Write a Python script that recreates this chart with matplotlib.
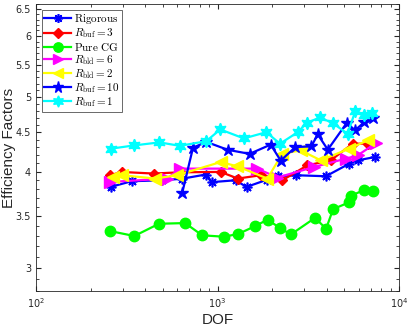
import numpy as np
import matplotlib
matplotlib.use('Agg')
from matplotlib import pyplot as plt
from matplotlib.ticker import FixedLocator, NullFormatter, LogLocator

plt.rcParams['mathtext.fontset'] = 'cm'

# DOF / efficiency factor pairs
rig_x = [259, 337, 495, 638, 859, 927, 1257, 1445, 1883, 2164, 2716, 3953, 5333, 5919, 7362]
rig_y = [3.823, 3.887, 3.898, 3.916, 3.965, 3.876, 3.898, 3.821, 3.906, 3.945, 3.957, 3.945, 4.097, 4.137, 4.178]

b3_x = [256, 297, 444, 625, 1040, 1295, 1729, 2276, 3130, 4210, 5550, 6710]
b3_y = [3.957, 3.996, 3.977, 3.992, 3.996, 3.918, 3.957, 3.898, 4.076, 4.137, 4.348, 4.348]

cg_x = [256, 348, 476, 663, 823, 1083, 1295, 1601, 1889, 2209, 2541, 3448, 3965, 4335, 5294, 5451, 6380, 7183]
cg_y = [3.349, 3.300, 3.423, 3.430, 3.307, 3.293, 3.319, 3.396, 3.466, 3.379, 3.316, 3.484, 3.372, 3.576, 3.648, 3.722, 3.784, 3.779]

d6_x = [256, 527, 625, 1656, 2138, 3404, 5093, 5919, 7464]
d6_y = [3.878, 3.918, 4.036, 4.036, 3.930, 4.056, 4.158, 4.199, 4.356]

d2_x = [267, 297, 454, 599, 1040, 1285, 1883, 2276, 2877, 3706, 5318, 6710]
d2_y = [3.936, 3.957, 3.918, 3.957, 4.116, 4.064, 3.918, 4.220, 4.262, 4.137, 4.284, 4.391]

b10_x = [638, 733, 869, 1140, 1503, 1963, 2230, 2686, 3286, 3568, 4052, 5164, 5716, 6433, 7161]
b10_y = [3.747, 4.297, 4.371, 4.269, 4.218, 4.336, 4.133, 4.305, 4.313, 4.470, 4.271, 4.629, 4.524, 4.637, 4.698]

b1_x = [259, 348, 479, 621, 867, 1036, 1397, 1858, 2210, 2766, 3102, 3662, 4304, 5208, 5738, 6412, 7066]
b1_y = [4.284, 4.326, 4.365, 4.320, 4.381, 4.537, 4.417, 4.500, 4.348, 4.500, 4.626, 4.702, 4.626, 4.479, 4.790, 4.744, 4.765]

yticks = [3, 3.5, 4, 4.5, 5, 5.5, 6, 6.5]

fig = plt.figure(figsize=(4.07, 3.27), dpi=100)
ax = fig.add_axes([36/407, 36/327, 363/407, 287/327])

asterisk = (8, 2, 0)
hexagram = (6, 1, 0)
ax.plot(rig_x, rig_y, '-', color='b', marker=asterisk, ms=7, mew=1.2, lw=1.6, label=r'$\mathrm{Rigorous}$')
ax.plot(b3_x, b3_y, '-', color='r', marker='D', ms=5.5, lw=1.6, label=r'$R_{\rm buf}=3$')
ax.plot(cg_x, cg_y, '-', color='#00ff00', marker='o', ms=7.5, lw=1.6, label=r'$\mathrm{Pure\ CG}$')
ax.plot(d6_x, d6_y, '-', color='#ff00ff', marker='>', ms=8, lw=1.6, label=r'$R_{\rm bld}=6$')
ax.plot(d2_x, d2_y, '-', color='yellow', marker='<', ms=8, lw=1.6, label=r'$R_{\rm bld}=2$')
ax.plot(b10_x, b10_y, '-', color='b', marker='*', ms=9, lw=1.6, label=r'$R_{\rm buf}=10$')
ax.plot(b1_x, b1_y, '-', color='cyan', marker=hexagram, ms=9, lw=1.6, label=r'$R_{\rm buf}=1$')

ax.set_xscale('log')
ax.set_yscale('log')
ax.set_xlim(100, 10000)
ax.set_ylim(2.8, 6.6)

ax.yaxis.set_major_locator(FixedLocator(yticks))
ax.set_yticklabels([f'{t:g}' for t in yticks])
ax.yaxis.set_minor_locator(FixedLocator(np.arange(2.8, 6.61, 0.1)))
ax.yaxis.set_minor_formatter(NullFormatter())
ax.xaxis.set_minor_locator(LogLocator(base=10, subs=np.arange(2, 10)))

gray = '#262626'
for s in ax.spines.values():
    s.set_color(gray)
    s.set_linewidth(0.6)
ax.tick_params(which='both', direction='in', top=True, right=True, colors=gray, labelsize=7)
ax.tick_params(which='major', length=3.5)
ax.tick_params(which='minor', length=2)
ax.tick_params(axis='x', pad=4)

ax.set_xlabel('DOF', fontsize=11, family='Liberation Sans', color=gray, labelpad=2)
ax.set_ylabel('Efficiency Factors', fontsize=11, family='Liberation Sans', color=gray)
ax.yaxis.set_label_coords(-0.056, 0.5)

leg = ax.legend(loc='upper left', fontsize=8, frameon=True, fancybox=False,
                edgecolor=gray, borderaxespad=0.5, handlelength=2.4,
                labelspacing=0.02, borderpad=0.25, handletextpad=0.3,
                markerscale=0.9)
leg.get_frame().set_linewidth(0.6)

fig.savefig('out.png', dpi=100)
